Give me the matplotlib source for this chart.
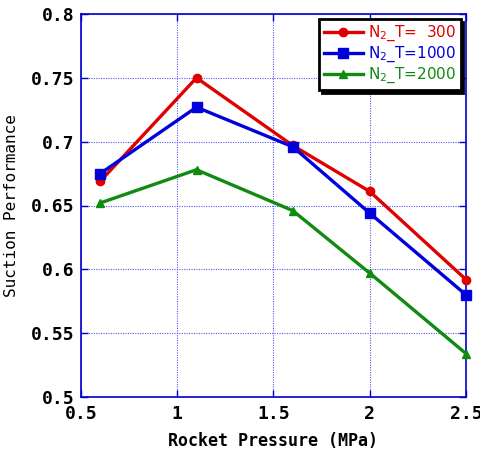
import matplotlib
matplotlib.use('agg')
import matplotlib.pyplot as plt

# data
pressure = [0.6, 1.1, 1.6, 2.0, 2.5]
perf_300 = [0.669, 0.750, 0.697, 0.661, 0.592]
perf_1000 = [0.675, 0.727, 0.696, 0.644, 0.580]
perf_2000 = [0.652, 0.678, 0.646, 0.597, 0.534]
labels = [r'N$_2$_T=  300', r'N$_2$_T=1000', r'N$_2$_T=2000']
xticks = [0.5, 1, 1.5, 2, 2.5]
yticks = [0.5, 0.55, 0.6, 0.65, 0.7, 0.75, 0.8]

colors = ['#e00000', '#0000dd', '#108a10']
markers = ['o', 's', '^']
msizes = [6, 7, 6]

fig = plt.figure(figsize=(4.81, 4.59), dpi=100)
ax = fig.add_axes([81 / 481, 62 / 459, 385 / 481, 383 / 459])

for ys, c, m, ms, lab in zip([perf_300, perf_1000, perf_2000], colors,
                             markers, msizes, labels):
    ax.plot(pressure, ys, color=c, marker=m, markersize=ms, linewidth=2.4,
            label=lab, clip_on=False, zorder=3)

ax.set_xlim(0.5, 2.5)
ax.set_ylim(0.5, 0.8)
ax.set_xticks(xticks)
ax.set_yticks(yticks)
ax.set_xticklabels(['0.5', '1', '1.5', '2', '2.5'])
ax.set_yticklabels(['0.5', '0.55', '0.6', '0.65', '0.7', '0.75', '0.8'])

mono = 'DejaVu Sans Mono'
for t in ax.get_xticklabels() + ax.get_yticklabels():
    t.set_fontfamily(mono)
    t.set_fontweight('bold')
    t.set_fontsize(13)

ax.tick_params(direction='in', colors='#0000cc', labelcolor='black',
               top=True, right=True, length=5, width=1, pad=5)
ax.tick_params(axis='x', pad=6)
for s in ax.spines.values():
    s.set_color('#0000cc')
    s.set_linewidth(1.2)
ax.grid(True, color='#5555ee', linestyle=(0, (1, 1.2)), linewidth=0.8)

ax.set_xlabel('Rocket Pressure (MPa)', fontfamily=mono, fontweight='bold',
              fontsize=12, labelpad=6)
ax.set_ylabel('Suction Performance', fontfamily=mono, fontsize=11.5,
              labelpad=8)

leg = ax.legend(loc='upper right', fontsize=11, fancybox=False,
                shadow={'color': 'black', 'alpha': 1, 'ox': 2, 'oy': -2},
                edgecolor='black', framealpha=1, handlelength=2.6,
                borderpad=0.3, labelspacing=0.1, handletextpad=0.3,
                borderaxespad=0.35)
leg.get_frame().set_linewidth(2)
for t, c in zip(leg.get_texts(), colors):
    t.set_color(c)

fig.savefig('out.png', dpi=100)
